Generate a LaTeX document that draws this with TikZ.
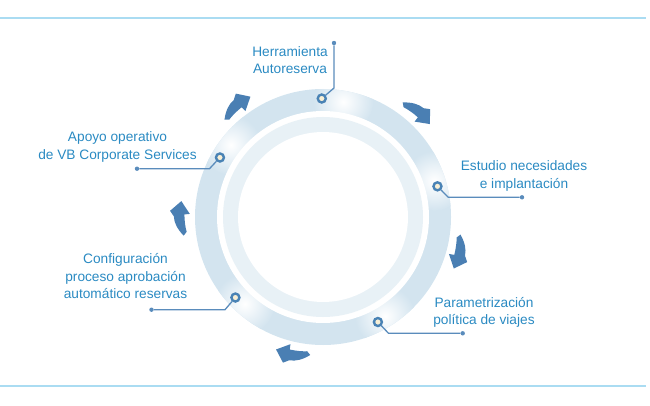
\documentclass[tikz,border=0pt]{standalone}
\usepackage{fontspec}
\setmainfont{Liberation Sans}
\usetikzlibrary{calc}
\definecolor{txtc}{HTML}{2A8AC2}
\definecolor{arrowc}{HTML}{4A7FB3}
\definecolor{dotc}{HTML}{4A83B5}
\definecolor{creamc}{HTML}{F8EFD5}
\definecolor{leadc}{HTML}{5A8CBC}
\definecolor{rulec}{HTML}{AADCF2}
\definecolor{ringc}{HTML}{D3E4EF}
\definecolor{ringic}{HTML}{E8F1F6}
\tikzset{
  label/.style={font=\fontsize{13.7}{17.4}\selectfont, text=txtc, align=center, inner sep=0pt, anchor=north},
  ringdot/.style={circle, draw=dotc, line width=2.4pt, fill=creamc, minimum size=8pt, inner sep=0pt},
  enddot/.style={circle, fill=leadc, minimum size=4.4pt, inner sep=0pt},
  leader/.style={draw=leadc, line width=1.3pt},
  swoosh/.pic={\fill[arrowc, scale=1.08] (-15,-2.2) .. controls (-9,3.5) and (-3,6.5) .. (3,6.6) -- (8.2,10) -- (17,-0.6) -- (5,-8.2) -- (4.6,-3.2) .. controls (-1.5,-3.2) and (-7,-3.8) .. (-11.5,-5) -- cycle;}
}
\begin{document}
\begin{tikzpicture}[x=1pt,y=1pt]
\useasboundingbox (0,0) rectangle (650,405);
\coordinate (C) at (323,188);
% rules
\coordinate (rtl) at (0,387); \coordinate (rtr) at (646,387);
\coordinate (rbl) at (0,19); \coordinate (rbr) at (646,19);
\draw[rulec, line width=1.2pt] (rtl) -- (rtr);
\draw[rulec, line width=1.2pt] (rbl) -- (rbr);
% rings
\fill[ringc] (C) circle (128);
\begin{scope}
  \clip (C) circle (128);
  \foreach \a in {80,18,-58,228,142}{
    \shade[inner color=white, outer color=ringc] ($(C)+(\a:117)$) circle (30);
  }
\end{scope}
\fill[white] (C) circle (106);
\fill[ringic] (C) circle (100);
\fill[white] (C) circle (85);
% arrows
\pic[rotate=38.6] at ($(C)+(128.6:140)$) {swoosh};
\pic[rotate=-41.5] at ($(C)+(48.5:141)$) {swoosh};
\pic[rotate=-104] at ($(C)+(-14:140)$) {swoosh};
\pic[rotate=-192] at ($(C)+(-102:140)$) {swoosh};
\pic[rotate=91] at ($(C)+(181:142)$) {swoosh};
% dots
\node[ringdot] (d1) at ($(C)+(90.6:118.5)$) {};
\node[ringdot] (d2) at ($(C)+(15:118.5)$) {};
\node[ringdot] (d3) at ($(C)+(-62.4:118.5)$) {};
\node[ringdot] (d4) at ($(C)+(222.6:119)$) {};
\node[ringdot] (d5) at ($(C)+(150:119)$) {};
% leader bends and ends
\coordinate (b1) at (334,317);   \node[enddot] (e1) at (334,362) {};
\coordinate (b2) at (448.3,207.7); \node[enddot] (e2) at (522,207.7) {};
\coordinate (b3) at (388.5,71.7);  \node[enddot] (e3) at (462.7,71.7) {};
\coordinate (b4) at (225,95.3);    \node[enddot] (e4) at (151.5,95.3) {};
\coordinate (b5) at (209.5,236.3); \node[enddot] (e5) at (137,236.3) {};
\draw[leader] (d1) -- (b1) -- (e1);
\draw[leader] (d2) -- (b2) -- (e2);
\draw[leader] (d3) -- (b3) -- (e3);
\draw[leader] (d4) -- (b4) -- (e4);
\draw[leader] (d5) -- (b5) -- (e5);
% labels
\node[label] (t1) at (290,359) {Herramienta\\Autoreserva};
\node[label] (t2) at (524,244.5) {Estudio necesidades\\e implantación};
\node[label] (t3) at (484,108) {Parametrización\\política de viajes};
\node[label] (t4) at (125.5,151.5) {Configuración\\proceso aprobación\\automático reservas};
\node[label] (t5) at (117.5,273.5) {Apoyo operativo\\de VB Corporate Services};
\end{tikzpicture}
\end{document}
